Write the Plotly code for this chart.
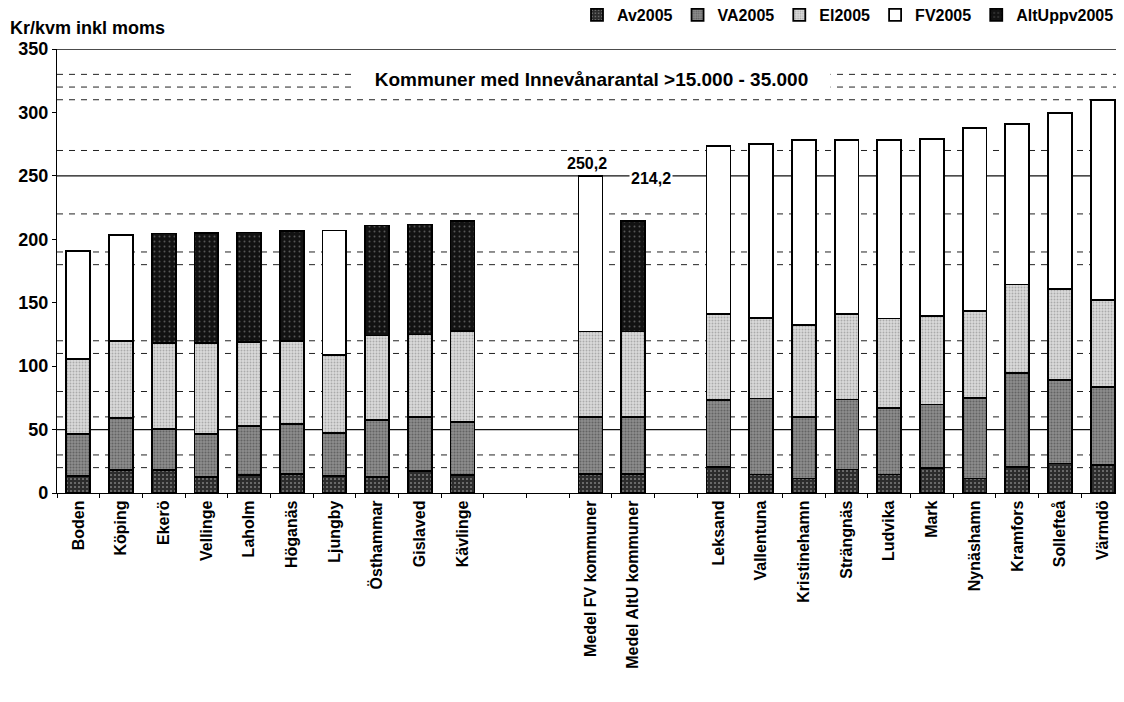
import plotly.graph_objects as go

# ---- data ----
categories = ["Boden", "Köping", "Ekerö", "Vellinge", "Laholm", "Höganäs", "Ljungby",
              "Östhammar", "Gislaved", "Kävlinge", " ", "  ",
              "Medel FV kommuner", "Medel AltU kommuner", "   ",
              "Leksand", "Vallentuna", "Kristinehamn", "Strängnäs", "Ludvika", "Mark",
              "Nynäshamn", "Kramfors", "Sollefteå", "Värmdö"]

av2005 = [13.1, 18.4, 17.9, 12.5, 14.5, 15.0, 13.1, 12.4, 17.1, 14.5, None, None,
          14.7, 14.7, None,
          20.7, 14.6, 11.4, 18.5, 14.6, 19.9, 11.4, 20.7, 23.3, 21.9]
va2005 = [33.4, 40.7, 32.8, 34.0, 38.6, 39.7, 34.2, 44.9, 42.6, 41.2, None, None,
          45.0, 45.5, None,
          52.5, 59.9, 48.7, 55.2, 52.6, 49.9, 63.7, 74.1, 65.7, 61.9]
el2005 = [59.2, 60.5, 67.6, 71.8, 66.0, 65.4, 61.3, 66.8, 65.2, 71.8, None, None,
          67.6, 67.1, None,
          67.6, 63.7, 72.2, 67.1, 70.4, 69.6, 68.3, 69.6, 71.5, 68.2]
fv2005 = [84.9, 83.6, None, None, None, None, 98.3, None, None, None, None, None,
          122.9, None, None,
          132.7, 137.2, 145.7, 137.7, 140.9, 139.9, 144.1, 126.2, 139.3, 157.5]
altuppv2005 = [None, None, 86.2, 86.5, 86.2, 86.3, None, 86.7, 86.7, 86.7, None, None,
               None, 86.9, None,
               None, None, None, None, None, None, None, None, None, None]

series_names = ["Av2005", "VA2005", "El2005", "FV2005", "AltUppv2005"]
medel_labels = ["250,2", "214,2"]
group_title = "Kommuner med Innevånarantal >15.000 - 35.000"
y_title = "Kr/kvm inkl moms"
y_ticks = [0, 50, 100, 150, 200, 250, 300, 350]
dashed_refs = [20, 30, 60, 80, 110, 120, 180, 190, 220, 270, 310, 320, 330]
solid_refs = [50, 250, 350]

# ---- styles ----
FONT = "Liberation Sans, Arial, sans-serif"
styles = {
    "Av2005": dict(bg="#2c2c2c", fg="#d0d0d0", size=4, sol=0.2),
    "VA2005": dict(bg="#8c8c8c", fg="#3a3a3a", size=3, sol=0.35),
    "El2005": dict(bg="#dadada", fg="#7a7a7a", size=3, sol=0.3),
    "FV2005": dict(bg="#ffffff", fg="#ffffff", size=8, sol=0.01),
    "AltUppv2005": dict(bg="#121212", fg="#9a9a9a", size=5, sol=0.12),
}

# the page body keeps an 8px margin, so the figure is drawn 8px smaller than the window
W, H = 1116, 694
ML, MR, MT, MB = 49, 0, 41, 209
PW, PH = W - ML - MR, H - MT - MB

fig = go.Figure()
for name, vals in zip(series_names, [av2005, va2005, el2005, fv2005, altuppv2005]):
    s = styles[name]
    fig.add_trace(go.Bar(
        x=categories, y=vals, name=name,
        marker=dict(color=s["bg"],
                    line=dict(color="black", width=1.8),
                    pattern=dict(shape=".", fgcolor=s["fg"], bgcolor=s["bg"],
                                 size=s["size"], solidity=s["sol"])),
        hoverinfo="x+y+name",
    ))

# reference lines
for v in dashed_refs:
    fig.add_shape(type="line", xref="paper", x0=0, x1=1, yref="y", y0=v, y1=v,
                  line=dict(color="#222", width=1, dash="6px,6px"), layer="below")
for v in solid_refs:
    fig.add_shape(type="line", xref="paper", x0=0, x1=1, yref="y", y0=v, y1=v,
                  line=dict(color="#111", width=1.3), layer="below")

# value labels for the two averages
fig.add_annotation(x=categories[12], y=260, text="<b>" + medel_labels[0] + "</b>",
                   showarrow=False, xshift=-4, bgcolor="white",
                   font=dict(family=FONT, size=16, color="black"))
fig.add_annotation(x=categories[13], y=248, text="<b>" + medel_labels[1] + "</b>",
                   showarrow=False, xshift=18, bgcolor="white",
                   font=dict(family=FONT, size=16, color="black"))
# group header
fig.add_annotation(xref="paper", x=(583 - ML) / PW, y=326, yref="y",
                   text="<b>" + group_title + "</b>",
                   showarrow=False, bgcolor="white", width=475, height=24,
                   font=dict(family=FONT, size=19, color="black"))
# y-axis unit title
fig.add_annotation(xref="paper", x=-ML / PW, xanchor="left",
                   yref="paper", y=1, yanchor="middle", yshift=MT - 20,
                   text="<b>" + y_title + "</b>", showarrow=False,
                   font=dict(family=FONT, size=18, color="black"))

fig.update_layout(
    width=W, height=H,
    barmode="stack", bargap=0.44,
    plot_bgcolor="white", paper_bgcolor="white",
    margin=dict(l=ML, r=MR, t=MT, b=MB, autoexpand=False),
    font=dict(family=FONT, color="black"),
    legend=dict(orientation="h", x=(569 - ML) / PW, xanchor="left",
                y=1 + (MT - 7) / PH, yref="paper", yanchor="middle", traceorder="normal",
                font=dict(family=FONT, size=16, color="black", weight="bold"),
                itemwidth=30, bgcolor="rgba(0,0,0,0)"),
    showlegend=True,
)
fig.update_xaxes(
    categoryorder="array", categoryarray=categories, range=[-0.5, len(categories) - 0.5],
    tickangle=-90, tickson="boundaries", ticks="outside", ticklen=4, tickcolor="black",
    showline=True, linecolor="black", linewidth=1.2, showgrid=False,
    tickfont=dict(family=FONT, size=16, color="black", weight="bold"),
)
fig.update_yaxes(
    range=[0, 350], tickvals=y_ticks, ticks="outside", ticklen=4, tickcolor="black",
    showline=True, linecolor="black", linewidth=1.2, showgrid=False, zeroline=False,
    tickfont=dict(family=FONT, size=18, color="black", weight="bold"),
)

fig.write_html("out.html")
